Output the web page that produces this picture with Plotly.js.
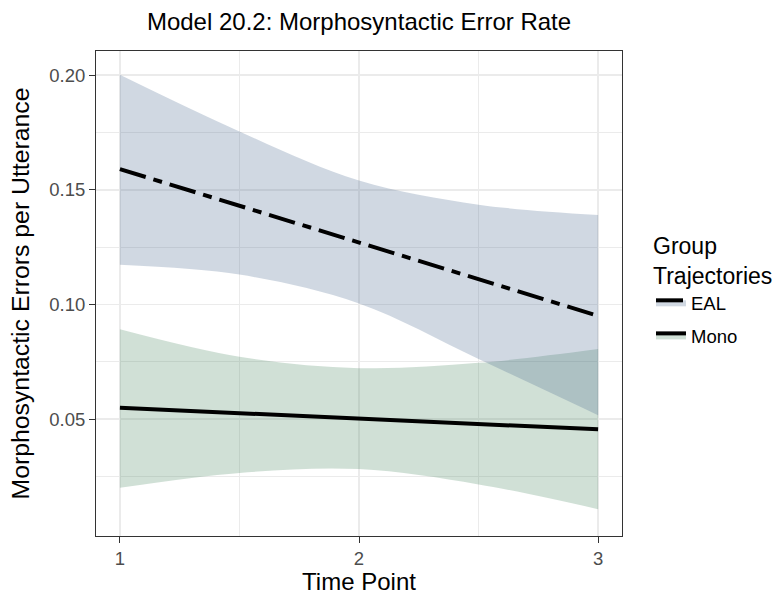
<!DOCTYPE html>
<html><head><meta charset="utf-8">
<script src="https://cdn.plot.ly/plotly-3.0.1.min.js"></script>
<style>html,body{margin:0;padding:0;background:#fff;} #chart{width:780px;height:595px;}</style>
</head><body><div id="chart"></div>
<script>
// ---- data ----
const timePoints = [1, 1.5, 2, 2.5, 3];

const ealFit   = [0.159, 0.143, 0.127, 0.111, 0.095];
const ealUpper = [0.2001, 0.1754, 0.154, 0.1435, 0.139];
const ealLower = [0.1173, 0.113, 0.1004, 0.0762, 0.0517];

const monoFit   = [0.0549, 0.0526, 0.0503, 0.0479, 0.0455];
const monoUpper = [0.0892, 0.0772, 0.0722, 0.0745, 0.0805];
const monoLower = [0.0200, 0.0265, 0.0282, 0.0215, 0.0107];

const groupNames = ['EAL', 'Mono'];
const xTickVals = [1, 2, 3];
const xMinorVals = [1.5, 2.5];
const yTickVals = [0.05, 0.10, 0.15, 0.20];
const yTickText = ['0.05', '0.10', '0.15', '0.20'];
const yMinorVals = [0.025, 0.075, 0.125, 0.175];

// ---- styling ----
const FONT = 'Liberation Sans, Arial, Helvetica, sans-serif';
const ealFill = 'rgba(67,99,139,0.25)';
const monoFill = 'rgba(67,131,91,0.25)';

function bandTraces(name, fit, lower, upper, fillColor, dash, rank) {
  const common = {x: timePoints, mode: 'lines', hoverinfo: 'skip'};
  return [
    Object.assign({}, common, {y: lower, showlegend: false,
      line: {width: 1, shape: 'spline', color: 'rgba(0,0,0,0)'}}),
    Object.assign({}, common, {y: fit, name: name, legendgroup: name, legendrank: rank,
      fill: 'tonexty', fillcolor: fillColor,
      line: {color: '#000000', width: 4, dash: dash}}),
    Object.assign({}, common, {y: upper, showlegend: false, legendgroup: name,
      fill: 'tonexty', fillcolor: fillColor,
      line: {width: 1, shape: 'spline', color: 'rgba(0,0,0,0)'}})
  ];
}

const data = [].concat(
  bandTraces(groupNames[1], monoFit, monoLower, monoUpper, monoFill, 'solid', 2),
  bandTraces(groupNames[0], ealFit, ealLower, ealUpper, ealFill, '27px,8px,9px,8px', 1)
);

const layout = {
  width: 780, height: 595,
  paper_bgcolor: '#ffffff', plot_bgcolor: '#ffffff',
  font: {family: FONT, color: '#000000'},
  margin: {l: 96, r: 158, t: 51, b: 59},
  title: {text: 'Model 20.2: Morphosyntactic Error Rate', x: 0.5, xref: 'paper',
    y: 1 - 21.5 / 595, yref: 'container', yanchor: 'middle',
    font: {size: 24, family: FONT, color: '#000000'}},
  xaxis: {
    range: [0.9, 3.1], tickmode: 'array', tickvals: xTickVals, ticktext: xTickVals.map(String),
    showgrid: true, gridcolor: '#ebebeb', gridwidth: 1.6, zeroline: false,
    minor: {tickmode: 'array', tickvals: xMinorVals, showgrid: true, gridcolor: '#ebebeb', gridwidth: 1, ticks: ''},
    showline: true, mirror: true, linecolor: '#333333', linewidth: 1,
    ticks: 'outside', ticklen: 6, tickwidth: 1, tickcolor: '#333333',
    tickfont: {size: 18.5, color: '#4d4d4d', family: FONT},
    title: {text: 'Time Point', font: {size: 24, color: '#000000', family: FONT}, standoff: 6}
  },
  yaxis: {
    range: [-0.001, 0.2105], tickmode: 'array', tickvals: yTickVals, ticktext: yTickText,
    showgrid: true, gridcolor: '#ebebeb', gridwidth: 1.6, zeroline: false,
    minor: {tickmode: 'array', tickvals: yMinorVals, showgrid: true, gridcolor: '#ebebeb', gridwidth: 1, ticks: ''},
    showline: true, mirror: true, linecolor: '#333333', linewidth: 1,
    ticks: 'outside', ticklen: 6, tickwidth: 1, tickcolor: '#333333',
    tickfont: {size: 18.5, color: '#4d4d4d', family: FONT},
    title: {text: 'Morphosyntactic Errors per Utterance', font: {size: 24.8, color: '#000000', family: FONT}, standoff: 12}
  },
  legend: {
    xref: 'container', yref: 'container',
    x: 651 / 780, xanchor: 'left', y: 1 - 224 / 595, yanchor: 'top',
    bgcolor: 'rgba(0,0,0,0)', borderwidth: 0,
    traceorder: 'grouped', tracegroupgap: 6,
    font: {size: 18.5, color: '#000000', family: FONT},
    title: {text: 'Group<br>Trajectories', side: 'top', font: {size: 23, color: '#000000', family: FONT}}
  },
  showlegend: true
};

Plotly.newPlot('chart', data, layout, {displayModeBar: false, staticPlot: true});
</script>
</body></html>
